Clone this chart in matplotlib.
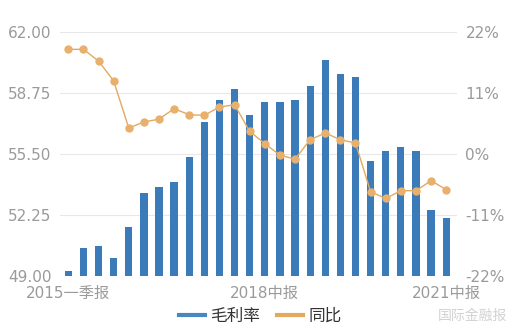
import matplotlib
matplotlib.use("Agg")
import matplotlib.pyplot as plt
from matplotlib.lines import Line2D

plt.rcParams['font.family'] = ['DejaVu Sans', 'Noto Sans CJK SC']

categories = [
    "2015一季报", "2015中报", "2015三季报", "2015年报",
    "2016一季报", "2016中报", "2016三季报", "2016年报",
    "2017一季报", "2017中报", "2017三季报", "2017年报",
    "2018一季报", "2018中报", "2018三季报", "2018年报",
    "2019一季报", "2019中报", "2019三季报", "2019年报",
    "2020一季报", "2020中报", "2020三季报", "2020年报",
    "2021一季报", "2021中报",
]
gross_margin = [49.27, 50.48, 50.6, 49.94, 51.6, 53.42, 53.76, 54.03, 55.32, 57.22,
                58.39, 58.96, 57.6, 58.3, 58.27, 58.39, 59.14, 60.51, 59.79, 59.61,
                55.13, 55.68, 55.87, 55.68, 52.5, 52.1]
yoy = [18.9, 18.9, 16.8, 13.2, 4.7, 5.8, 6.3, 8.2, 7.1, 7.0,
       8.5, 8.9, 4.1, 1.9, -0.2, -0.9, 2.6, 3.8, 2.6, 2.0,
       -6.8, -8.0, -6.6, -6.6, -4.8, -6.4]
shown_labels = ["2015一季报", "2018中报", "2021中报"]
left_ticks = [49.0, 52.25, 55.5, 58.75, 62.0]
right_ticks = [-22, -11, 0, 11, 22]

bar_color = "#3b7bb9"
line_color = "#e3a95f"
tick_color = "#9a9a9a"

fig = plt.figure(figsize=(5.15, 3.35), dpi=100)
ax = fig.add_axes([0.1165, 0.176, 0.771, 0.728])
x = list(range(len(categories)))
ax.bar(x, gross_margin, width=0.48, color=bar_color, zorder=2)
ax.set_ylim(49, 62)
ax.set_xlim(-0.55, 25.72)
ax.set_yticks(left_ticks)
ax.set_yticklabels([f"{v:.2f}" for v in left_ticks])
ax.grid(axis='y', color='#e8e8e8', linewidth=0.8, zorder=0)
ax.set_axisbelow(True)
idx = [categories.index(s) for s in shown_labels]
ax.set_xticks(idx)
ax.set_xticklabels(shown_labels)
for s in ax.spines.values():
    s.set_visible(False)
ax.tick_params(axis='both', length=0, colors=tick_color, labelsize=11)
ax.tick_params(axis='y', pad=6)
ax.tick_params(axis='x', pad=7)
for lbl in ax.get_yticklabels():
    lbl.set_verticalalignment('center_baseline')

ax2 = ax.twinx()
ax2.plot(x, yoy, color=line_color, linewidth=1.0, marker='o', markersize=5,
         markerfacecolor="#e8b06c", markeredgecolor="#e8b06c", zorder=3)
ax2.set_ylim(-22, 22)
ax2.set_yticks(right_ticks)
ax2.set_yticklabels([f"{v}%" for v in right_ticks])
for s in ax2.spines.values():
    s.set_visible(False)
ax2.tick_params(axis='y', length=0, colors=tick_color, labelsize=11, pad=6)

handles = [Line2D([0], [0], color="#4a86c0", linewidth=3),
           Line2D([0], [0], color=line_color, linewidth=3)]
leg = fig.legend(handles, ["毛利率", "同比"], loc='center', bbox_to_anchor=(0.505, 0.057),
                 ncol=2, frameon=False, fontsize=12, handlelength=1.6, handletextpad=0.3,
                 columnspacing=1.0)
for t in leg.get_texts():
    t.set_color("#333333")

fig.text(0.918, 0.057, "国际金融报", ha='center', va='center', fontsize=10, color="#d2d2d2")

fig.savefig("out.png", dpi=100)
